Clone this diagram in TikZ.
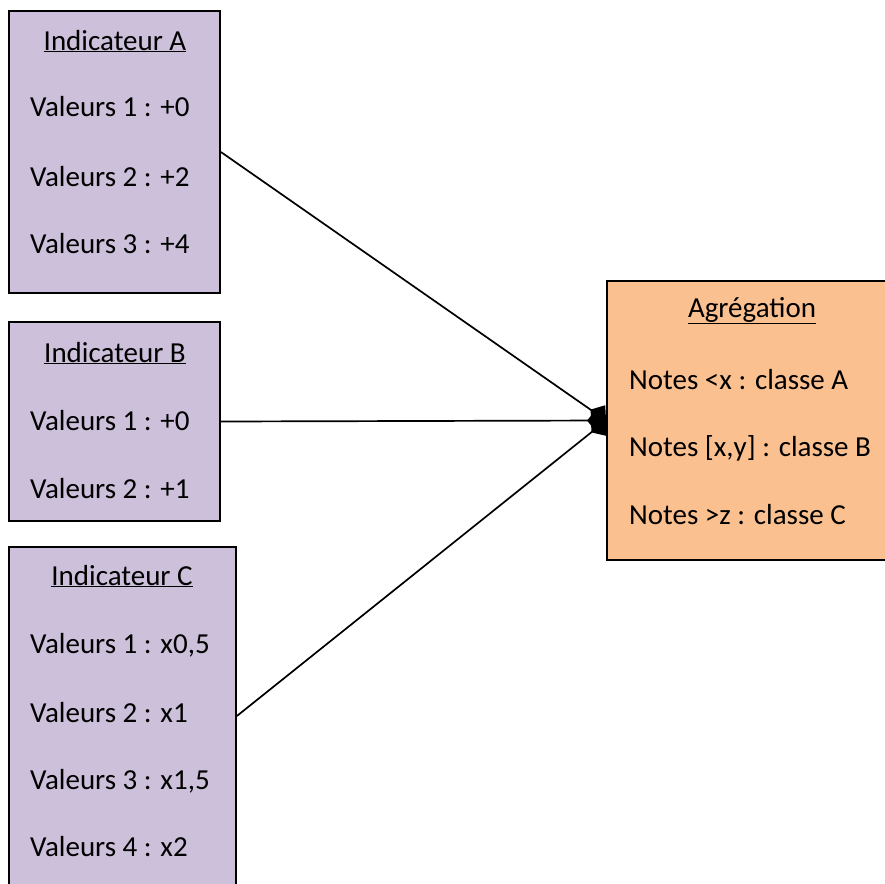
\documentclass[tikz,border=0pt]{standalone}
\usepackage{fontspec}
\setmainfont{Carlito}
\usetikzlibrary{arrows.meta}
\definecolor{lavande}{RGB}{204,192,218}
\definecolor{peche}{RGB}{250,192,144}
\tikzset{
  indbox/.style={draw=black,line width=1.8pt,fill=lavande,inner sep=0pt},
  aggbox/.style={draw=black,line width=1.8pt,fill=peche,inner sep=0pt},
  txt/.style={anchor=base west,inner sep=0pt,font=\fontsize{29}{34}\selectfont},
  ttl/.style={anchor=base,inner sep=0pt,font=\fontsize{29}{34}\selectfont},
  lien/.style={line width=1.7pt,-{Diamond[length=19pt,width=24pt]}}
}
\begin{document}
\begin{tikzpicture}[x=1pt,y=-1pt]
    \useasboundingbox (0,0) rectangle (885,883);

    %% boxes
    \node[indbox,minimum width=211pt,minimum height=282pt] (indA) at (114.5,152) {};
    \node[indbox,minimum width=211pt,minimum height=199pt] (indB) at (114.5,421.5) {};
    \node[indbox,minimum width=227pt,minimum height=338pt] (indC) at (122.5,716) {};
    \node[aggbox,minimum width=290pt,minimum height=279pt] (agg) at (752,420.5) {};

    %% Indicateur A
    \node[ttl] (tA) at (115,50) {\underline{Indicateur A}};
    \node[txt] (a1) at (30,116) {Valeurs 1 : +0};
    \node[txt] (a2) at (30,186) {Valeurs 2 : +2};
    \node[txt] (a3) at (30,253) {Valeurs 3 : +4};

    %% Indicateur B
    \node[ttl] (tB) at (115,362) {\underline{Indicateur B}};
    \node[txt] (b1) at (30,430) {Valeurs 1 : +0};
    \node[txt] (b2) at (30,498) {Valeurs 2 : +1};

    %% Indicateur C
    \node[ttl] (tC) at (122,585) {\underline{Indicateur C}};
    \node[txt] (c1) at (30,653) {Valeurs 1 : x0,5};
    \node[txt] (c2) at (30,722) {Valeurs 2 : x1};
    \node[txt] (c3) at (30,789) {Valeurs 3 : x1,5};
    \node[txt] (c4) at (30,856) {Valeurs 4 : x2};

    %% Agregation
    \node[ttl] (tAgg) at (752,317) {\underline{Agrégation}};
    \node[txt] (g1) at (629,389) {Notes <x : classe A};
    \node[txt] (g2) at (629,456) {Notes [x,y] : classe B};
    \node[txt] (g3) at (629,524) {Notes >z : classe C};

    %% liens
    \draw[lien] (indA.east) -- (agg.west);
    \draw[lien] (indB.east) -- (agg.west);
    \draw[lien] (indC.east) -- (agg.west);
  \end{tikzpicture}
\end{document}
